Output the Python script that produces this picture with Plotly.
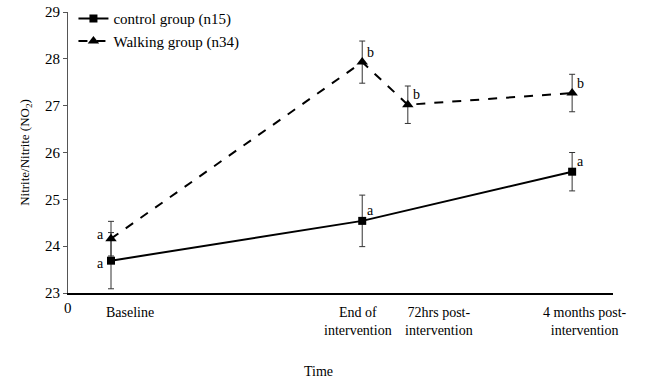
import plotly.graph_objects as go

time_labels = ["Baseline", "End of<br>intervention", "72hrs post-<br>intervention", "4 months post-<br>intervention"]
time_pos = [1.0, 6.84, 7.9, 11.72]

control_idx = [0, 1, 3]
control_mean = [23.69, 24.54, 25.59]
control_err = [0.6, 0.55, 0.41]
control_sig = ["a", "a", "a"]

walk_idx = [0, 1, 2, 3]
walk_mean = [24.16, 27.93, 27.02, 27.27]
walk_err = [0.37, 0.45, 0.4, 0.4]
walk_sig = ["a", "b", "b", "b"]

FONT = "Times New Roman"

fig = go.Figure()
fig.add_trace(go.Scatter(
    x=[time_pos[i] for i in control_idx], y=control_mean,
    mode="lines+markers", name="control group (n15)",
    line=dict(color="black", width=2, dash="solid"),
    marker=dict(symbol="square", size=8, color="black"),
    error_y=dict(type="data", array=control_err, color="#333", thickness=1, width=3),
))
fig.add_trace(go.Scatter(
    x=[time_pos[i] for i in walk_idx], y=walk_mean,
    mode="lines+markers", name="Walking group (n34)",
    line=dict(color="black", width=2, dash="dash"),
    marker=dict(symbol="triangle-up", size=10, color="black"),
    error_y=dict(type="data", array=walk_err, color="#333", thickness=1, width=3),
))

anns = []
for k, i in enumerate(control_idx):
    left = (i == 0)
    anns.append(dict(x=time_pos[i], y=control_mean[k], text=control_sig[k], showarrow=False,
                     xanchor="right" if left else "left", yanchor="middle",
                     xshift=-5 if left else 3, yshift=-3 if left else 10,
                     font=dict(family=FONT, size=14, color="black")))
for k, i in enumerate(walk_idx):
    left = (i == 0)
    anns.append(dict(x=time_pos[i], y=walk_mean[k], text=walk_sig[k], showarrow=False,
                     xanchor="right" if left else "left", yanchor="middle",
                     xshift=-5 if left else 3, yshift=4 if left else 10,
                     font=dict(family=FONT, size=14, color="black")))

label_shift = [19, -4, 31, 13]
for i, lab in enumerate(time_labels):
    anns.append(dict(x=time_pos[i], y=0, yref="paper", text=lab, showarrow=False,
                     xanchor="center", yanchor="top", yshift=-10, xshift=label_shift[i],
                     font=dict(family=FONT, size=14, color="black")))
anns.append(dict(x=0, y=0, yref="paper", text="0", showarrow=False, xanchor="center",
                 yanchor="top", yshift=-5, font=dict(family=FONT, size=15, color="black")))
anns.append(dict(x=0.46, xref="paper", y=-0.281, yref="paper", text="Time", showarrow=False,
                 xanchor="center", yanchor="middle", font=dict(family=FONT, size=14, color="black")))

fig.update_layout(
    width=649, height=383,
    margin=dict(l=68, r=36, t=12, b=90, autoexpand=False),
    paper_bgcolor="white", plot_bgcolor="white",
    font=dict(family=FONT, size=14, color="black"),
    showlegend=True,
    legend=dict(x=0.01, y=1.035, xanchor="left", yanchor="top", bgcolor="rgba(0,0,0,0)",
                font=dict(family=FONT, size=15), itemwidth=30, tracegroupgap=2),
    annotations=anns,
    xaxis=dict(range=[0, 12.67], showgrid=False, zeroline=False, showline=True, automargin=False,
               linecolor="black", linewidth=2, showticklabels=False, ticks=""),
    yaxis=dict(range=[23, 29], dtick=1, showgrid=False, zeroline=False, showline=True,
               automargin=False, ticklabeloverflow="allow",
               linecolor="#555", linewidth=1, ticks="outside", ticklen=4, tickcolor="#555",
               tickfont=dict(family=FONT, size=15),
               title=dict(text="Nitrite/Nitrite (NO<sub>2</sub>)", font=dict(family=FONT, size=13),
                          standoff=12)),
)

fig.write_html("out.html", config={"displayModeBar": False},
               post_script="document.body.style.margin='0';")
